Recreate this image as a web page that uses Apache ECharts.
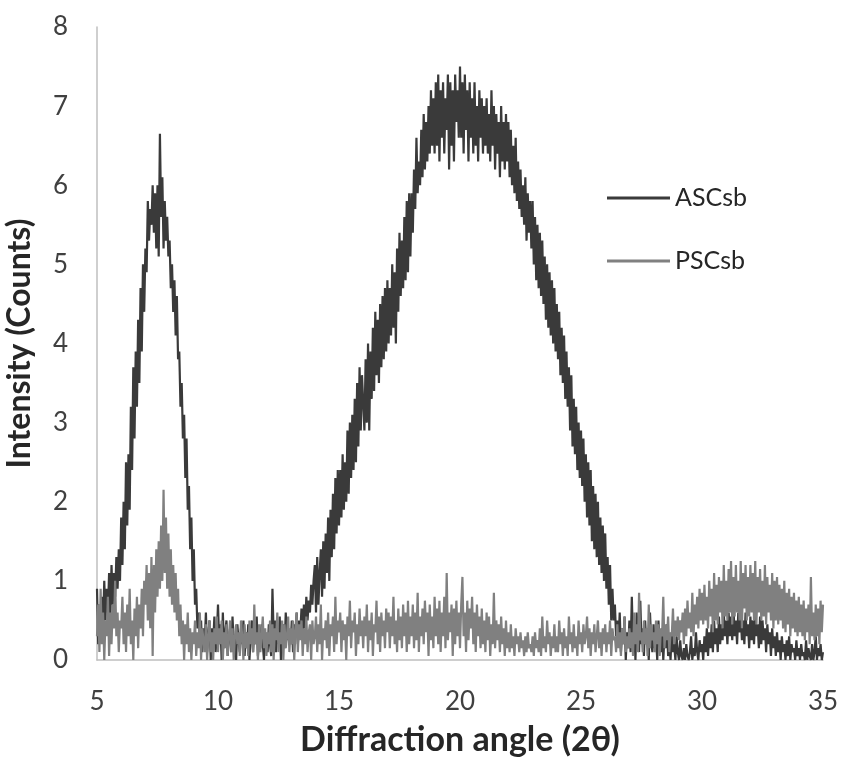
<!DOCTYPE html>
<html>
<head>
<meta charset="utf-8">
<script src="https://cdn.jsdelivr.net/npm/echarts@6/dist/echarts.min.js"></script>
<style>html,body{margin:0;padding:0;background:#fff}#c{width:841px;height:761px}</style>
</head>
<body>
<div id="c"></div>
<script>
// Diffraction angle grid (2θ), start and step of the scan
const angleStart = 5;
const angleStep = 0.05;

// ASCsb intensity, one row per degree (5.00 ... 34.95), plus 35.00
const ascsb = [
  0.9,0.2,0.7,0.3,0.8,0.4,1.0,0.5,0.9,0.6,1.1,0.5,1.2,0.7,1.1,0.8,1.3,0.9,1.4,1.0,
  1.8,1.2,2.0,1.4,2.5,1.7,2.6,1.9,3.2,2.4,3.7,2.8,3.9,3.2,4.3,3.5,4.7,3.9,5.0,4.4,
  5.2,4.9,5.8,5.3,5.7,5.5,6.0,5.4,5.9,5.2,6.0,5.1,6.65,5.6,6.1,5.2,5.8,5.3,5.6,5.1,
  5.3,4.7,5.0,4.4,4.8,4.1,4.6,3.8,3.9,3.2,3.5,2.8,3.1,2.3,2.8,1.9,2.2,1.4,1.8,1.0,
  1.4,0.7,0.9,0.4,0.6,0.25,0.5,0.1,0.4,0.2,0.6,0.1,0.3,0.5,0.0,0.4,0.2,0.55,0.1,0.3,
  0.7,0.2,0.45,0.0,0.6,0.15,0.35,0.5,0.05,0.3,0.4,0.1,0.55,0.2,0.3,0.0,0.45,0.25,0.1,0.4,
  0.2,0.5,0.05,0.35,0.15,0.45,0.0,0.3,0.5,0.1,0.4,0.2,0.55,0.05,0.3,0.15,0.45,0.2,0.0,0.35,
  0.3,0.1,0.45,0.2,0.05,0.9,0.3,0.5,0.1,0.4,0.2,0.55,0.0,0.35,0.45,0.15,0.6,0.25,0.4,0.3,
  0.2,0.5,0.1,0.45,0.3,0.6,0.2,0.5,0.35,0.65,0.3,0.7,0.4,0.8,0.5,0.75,0.6,0.95,0.7,1.0,
  1.2,0.6,1.3,0.7,1.1,1.4,0.8,1.5,0.9,1.6,1.1,1.8,1.0,1.9,1.3,2.1,1.4,2.3,1.6,2.4,
  1.7,2.4,1.8,2.6,1.9,2.5,2.0,2.9,2.1,3.0,2.3,3.1,2.4,3.3,2.5,3.5,2.7,3.7,2.9,3.6,
  3.6,2.9,3.8,3.0,4.0,2.9,3.9,3.3,4.2,3.4,4.4,3.6,4.3,3.5,4.5,3.7,4.6,3.8,4.7,3.9,
  4.8,4.0,4.7,4.1,5.0,4.2,4.9,4.0,5.2,4.4,5.4,4.6,5.3,4.7,5.6,4.8,5.8,4.9,5.9,5.1,
  5.9,5.4,6.2,5.7,6.6,5.9,6.3,6.0,6.7,6.1,6.9,6.2,6.8,6.3,7.0,6.4,7.2,6.5,7.1,6.4,
  7.3,6.5,7.4,6.3,7.2,6.6,7.3,6.4,7.1,6.7,7.4,6.2,7.3,6.5,7.2,6.3,7.4,6.8,7.2,6.6,
  7.5,6.6,7.3,6.4,7.4,6.7,7.2,6.3,7.3,6.6,7.1,6.4,7.3,6.5,7.0,6.3,7.2,6.6,7.1,6.4,
  7.0,6.5,7.1,6.4,6.9,6.3,7.2,6.5,7.0,6.2,6.9,6.4,6.8,6.1,7.0,6.3,6.8,6.2,6.9,6.3,
  6.8,6.1,6.7,6.0,6.5,5.9,6.6,5.8,6.3,5.7,6.2,5.6,6.0,5.5,6.1,5.3,5.9,5.4,5.8,5.2,
  5.8,5.0,5.6,4.8,5.5,4.7,5.4,4.6,5.3,4.5,5.1,4.3,5.0,4.2,4.9,4.1,4.8,4.0,4.7,3.9,
  4.5,3.8,4.4,3.6,4.2,3.5,4.1,3.3,3.9,3.2,3.7,2.9,3.6,2.7,3.3,2.6,3.2,2.4,3.0,2.3,
  2.9,2.2,2.8,2.0,2.6,1.8,2.5,1.7,2.4,1.5,2.2,1.4,2.1,1.3,2.0,1.2,1.8,1.1,1.7,1.0,
  1.6,0.9,1.3,0.7,1.2,0.5,0.9,0.5,0.7,0.3,0.5,0.2,0.6,0.1,0.4,0.2,0.55,0.0,0.35,0.15,
  0.5,0.1,0.8,0.2,0.4,0.0,0.6,0.3,0.1,0.75,0.2,0.4,0.05,0.5,0.2,0.35,0.0,0.6,0.25,0.1,
  0.45,0.15,0.3,0.0,0.5,0.2,0.1,0.4,0.0,0.3,0.15,0.45,0.05,0.25,0.0,0.35,0.1,0.2,0.0,0.3,
  0.1,0.0,0.25,0.05,0.0,0.15,0.0,0.2,0.05,0.0,0.1,0.3,0.0,0.15,0.05,0.35,0.1,0.0,0.25,0.1,
  0.2,0.0,0.3,0.1,0.4,0.05,0.35,0.15,0.45,0.1,0.5,0.2,0.4,0.1,0.55,0.2,0.45,0.25,0.6,0.3,
  0.5,0.2,0.6,0.3,0.55,0.25,0.65,0.3,0.5,0.2,0.6,0.35,0.55,0.25,0.5,0.2,0.6,0.3,0.45,0.15,
  0.55,0.25,0.5,0.2,0.6,0.3,0.45,0.15,0.55,0.2,0.5,0.25,0.4,0.1,0.45,0.2,0.35,0.05,0.4,0.15,
  0.3,0.05,0.35,0.1,0.25,0.0,0.3,0.1,0.2,0.0,0.25,0.05,0.3,0.0,0.2,0.1,0.15,0.0,0.25,0.05,
  0.15,0.0,0.2,0.05,0.1,0.0,0.25,0.0,0.15,0.05,0.0,0.2,0.0,0.1,0.3,0.0,0.15,0.05,0.2,0.0,
  0.1
];

// PSCsb intensity, same grid
const pscsb = [
  0.3,0.7,0.1,0.9,0.2,0.6,0.0,0.5,0.3,0.8,0.05,0.6,0.2,0.7,0.4,1.0,0.3,0.6,0.1,0.5,
  0.4,0.8,0.2,0.6,0.1,0.7,0.3,0.9,0.2,0.5,0.0,0.65,0.3,0.8,0.15,0.7,0.4,0.9,0.3,1.0,
  0.7,1.2,0.5,1.1,0.4,1.3,0.05,1.2,0.6,1.4,0.8,1.5,0.9,1.7,1.0,2.15,1.1,1.8,0.9,1.6,
  0.8,1.4,0.7,1.2,0.6,1.1,0.5,0.9,0.3,0.7,0.2,0.5,0.0,0.45,0.2,0.6,0.1,0.4,0.0,0.35,
  0.2,0.5,0.05,0.35,0.15,0.6,0.0,0.4,0.25,0.1,0.45,0.0,0.3,0.5,0.1,0.35,0.0,0.4,0.2,0.55,
  0.1,0.4,0.2,0.5,0.0,0.35,0.15,0.45,0.05,0.3,0.5,0.1,0.4,0.0,0.3,0.45,0.2,0.35,0.05,0.5,
  0.3,0.0,0.45,0.15,0.35,0.05,0.5,0.2,0.4,0.1,0.7,0.2,0.35,0.0,0.45,0.1,0.3,0.55,0.15,0.4,
  0.05,0.35,0.2,0.5,0.1,0.45,0.0,0.4,0.25,0.6,0.1,0.35,0.2,0.5,0.0,0.45,0.15,0.3,0.55,0.1,
  0.4,0.2,0.5,0.0,0.35,0.6,0.1,0.45,0.25,0.5,0.05,0.4,0.2,0.55,0.1,0.35,0.45,0.0,0.5,0.2,
  0.3,0.55,0.1,0.45,0.2,0.7,0.0,0.4,0.25,0.5,0.15,0.6,0.05,0.45,0.3,0.55,0.1,0.8,0.2,0.5,
  0.35,0.6,0.1,0.5,0.25,0.45,0.0,0.55,0.3,0.75,0.15,0.5,0.35,0.6,0.05,0.45,0.2,0.65,0.3,0.5,
  0.15,0.55,0.3,0.7,0.1,0.5,0.25,0.6,0.05,0.45,0.35,0.75,0.2,0.55,0.1,0.6,0.3,0.5,0.15,0.65,
  0.35,0.6,0.15,0.55,0.3,0.8,0.2,0.5,0.1,0.65,0.25,0.55,0.15,0.7,0.3,0.6,0.1,0.75,0.2,0.55,
  0.3,0.7,0.15,0.6,0.25,0.85,0.1,0.55,0.3,0.65,0.2,0.75,0.35,0.6,0.05,0.7,0.25,0.55,0.15,0.8,
  0.3,0.65,0.2,0.75,0.1,0.6,0.3,0.8,0.15,1.1,0.25,0.6,0.35,0.7,0.05,0.65,0.2,0.75,0.3,0.6,
  0.15,0.7,1.05,0.3,0.6,0.1,0.75,0.25,0.65,0.4,0.8,0.2,0.6,0.1,0.7,0.3,0.55,0.15,0.65,0.2,
  0.5,0.1,0.6,0.25,0.55,0.05,0.45,0.2,0.85,0.15,0.5,0.25,0.45,0.1,0.55,0.2,0.4,0.05,0.5,0.15,
  0.35,0.1,0.45,0.15,0.3,0.05,0.4,0.2,0.3,0.1,0.35,0.15,0.25,0.05,0.3,0.1,0.35,0.15,0.2,0.1,
  0.3,0.05,0.35,0.15,0.25,0.1,0.4,0.05,0.55,0.15,0.3,0.1,0.5,0.2,0.35,0.05,0.3,0.15,0.45,0.1,
  0.3,0.1,0.5,0.2,0.35,0.05,0.4,0.15,0.3,0.05,0.55,0.2,0.35,0.1,0.45,0.15,0.3,0.05,0.5,0.2,
  0.35,0.1,0.45,0.2,0.3,0.55,0.15,0.4,0.05,0.35,0.2,0.45,0.1,0.3,0.5,0.15,0.35,0.05,0.4,0.2,
  0.45,0.1,0.35,0.2,0.5,0.05,0.4,0.25,0.3,0.1,0.45,0.15,0.35,0.05,0.4,0.2,0.55,0.1,0.3,0.15,
  0.4,0.15,0.35,0.05,0.6,0.2,0.45,0.1,0.85,0.25,0.35,0.1,0.5,0.2,0.4,0.05,0.7,0.15,0.45,0.25,
  0.35,0.1,0.5,0.2,0.45,0.05,0.4,0.3,0.8,0.15,0.45,0.25,0.55,0.1,0.35,0.3,0.65,0.2,0.5,0.3,
  0.55,0.25,0.5,0.35,0.6,0.2,0.65,0.3,0.75,0.4,0.6,0.35,0.85,0.3,0.7,0.45,0.8,0.4,0.9,0.5,
  0.85,0.45,0.95,0.5,0.8,0.4,1.0,0.55,0.9,0.35,1.1,0.5,0.95,0.45,1.05,0.6,1.0,0.4,1.2,0.55,
  1.0,0.5,1.15,0.6,1.25,0.45,1.05,0.55,1.2,0.6,1.0,0.5,1.25,0.4,1.1,0.65,1.2,0.5,1.05,0.55,
  1.2,0.6,1.1,0.5,1.25,0.45,1.05,0.6,1.15,0.5,1.0,0.55,1.2,0.45,1.05,0.6,0.95,0.5,1.1,0.4,
  1.0,0.5,1.05,0.45,0.95,0.5,0.9,0.4,1.0,0.35,0.85,0.45,0.9,0.3,0.8,0.4,0.85,0.35,0.75,0.3,
  0.8,0.35,0.7,0.3,0.75,0.25,0.65,0.35,0.7,0.2,1.05,0.3,0.6,0.25,0.7,0.3,0.65,0.2,0.75,0.35,
  0.7
];

const seriesNames = ['ASCsb', 'PSCsb'];
const seriesColors = ['#3a3a3a', '#808080'];
const xTitle = 'Diffraction angle (2θ)';
const yTitle = 'Intensity (Counts)';

function pairs(vals) {
  return vals.map((v, i) => [+(angleStart + i * angleStep).toFixed(2), v]);
}

const font = 'Lato, "Open Sans", sans-serif';
const chart = echarts.init(document.getElementById('c'), null, {renderer: 'canvas'});
chart.setOption({
  animation: false,
  backgroundColor: '#ffffff',
  grid: {left: 97, right: 18, top: 27, bottom: 101, containLabel: false, outerBoundsMode: 'none'},
  legend: {
    orient: 'vertical',
    left: 607, top: 183, padding: 0,
    itemWidth: 63, itemHeight: 3, itemGap: 33,
    icon: 'rect',
    textStyle: {fontFamily: font, fontSize: 25, color: '#262626', lineHeight: 30, padding: [0, 0, 0, 0]},
    data: seriesNames
  },
  xAxis: {
    type: 'value', min: 5, max: 35, interval: 5,
    name: xTitle, nameLocation: 'middle', nameGap: 63,
    nameTextStyle: {fontFamily: font, fontSize: 34, fontWeight: 'bold', color: '#262626'},
    axisLine: {show: true, lineStyle: {color: '#bfbfbf', width: 1.5}},
    axisTick: {show: false},
    splitLine: {show: false},
    axisLabel: {margin: 29, fontFamily: font, fontSize: 26, color: '#404040'}
  },
  yAxis: {
    type: 'value', min: 0, max: 8, interval: 1,
    name: yTitle, nameLocation: 'middle', nameGap: 61,
    nameTextStyle: {fontFamily: font, fontSize: 32, fontWeight: 'bold', color: '#262626'},
    axisLine: {show: true, lineStyle: {color: '#bfbfbf', width: 1.5}},
    axisTick: {show: false},
    splitLine: {show: false},
    axisLabel: {margin: 29, fontFamily: font, fontSize: 26, color: '#404040'}
  },
  series: [
    {name: seriesNames[0], type: 'line', data: pairs(ascsb), symbol: 'none', showSymbol: false,
     color: seriesColors[0], lineStyle: {color: seriesColors[0], width: 2.2}, z: 2},
    {name: seriesNames[1], type: 'line', data: pairs(pscsb), symbol: 'none', showSymbol: false,
     color: seriesColors[1], lineStyle: {color: seriesColors[1], width: 2.2}, z: 3}
  ]
});
</script>
</body>
</html>
